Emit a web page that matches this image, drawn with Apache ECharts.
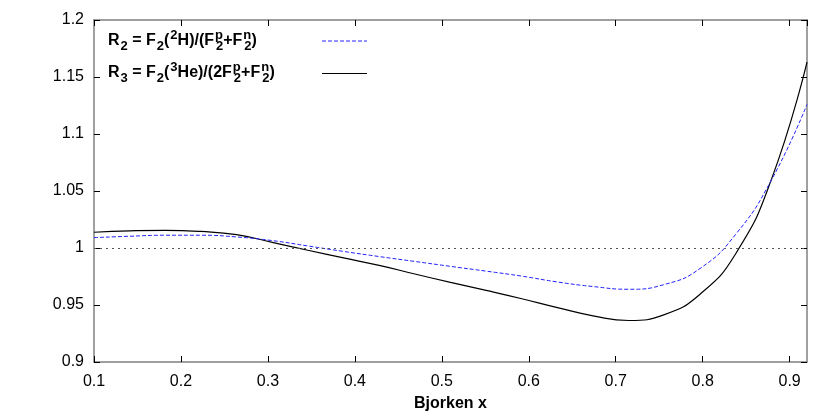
<!DOCTYPE html>
<html><head><meta charset="utf-8">
<script src="https://cdn.jsdelivr.net/npm/echarts@6/dist/echarts.min.js"></script>
<style>html,body{margin:0;padding:0;background:#fff}#c{width:830px;height:416px}</style>
</head><body><div id="c"></div>
<script>
const xValues  = [0.100, 0.141, 0.182, 0.223, 0.264, 0.305, 0.346, 0.387, 0.428, 0.469, 0.510, 0.551, 0.592, 0.633, 0.674, 0.715, 0.756, 0.797, 0.838, 0.879, 0.920];
const r3Values = [1.0138, 1.0150, 1.0155, 1.0145, 1.0117, 1.0050, 0.9980, 0.9913, 0.9847, 0.9772, 0.9698, 0.9628, 0.9555, 0.9477, 0.9405, 0.9364, 0.9416, 0.9595, 0.9950, 1.0600, 1.1630];
const r2Values = [1.0091, 1.0103, 1.0112, 1.0112, 1.0097, 1.0065, 1.0018, 0.9970, 0.9925, 0.9882, 0.9839, 0.9797, 0.9753, 0.9702, 0.9662, 0.9638, 0.9680, 0.9820, 1.0120, 1.0595, 1.1260];
const refLineValue = 1;
const xAxisTitle = 'Bjorken x';
const legendR2 = '{m|R}{s|2}{m| = F}{s|2}{m|(}{p|2}{m|H)/(F}{pz|p}{s|2}{m|+F}{pz|n}{s|2}{m|)}';
const legendR3 = '{m|R}{s|3}{m| = F}{s|2}{m|(}{p|3}{m|He)/(2F}{pz|p}{s|2}{m|+F}{pz|n}{s|2}{m|)}';

const chart = echarts.init(document.getElementById('c'), null, {renderer: 'canvas'});
const FONT = '"Liberation Sans", Arial, Helvetica, sans-serif';
const frame = {show: true, lineStyle: {color: '#808080', width: 1.5}};
const tick = {show: true, inside: true, length: 6, lineStyle: {color: '#000', width: 1}};
const xFmt = v => Math.abs(v * 10 - Math.round(v * 10)) < 1e-6 ? String(Math.round(v * 10) / 10) : '';
const richStyles = {
  m:  {fontSize: 16, fontWeight: 'bold', fontFamily: FONT, color: '#000', lineHeight: 24, verticalAlign: 'middle'},
  s:  {fontSize: 13, fontWeight: 'bold', fontFamily: FONT, color: '#000', lineHeight: 14, verticalAlign: 'bottom', padding: [0, 0, 0, 1]},
  p:  {fontSize: 13, fontWeight: 'bold', fontFamily: FONT, color: '#000', lineHeight: 14, verticalAlign: 'top', padding: [0, 0, 0, 1]},
  pz: {fontSize: 13, fontWeight: 'bold', fontFamily: FONT, color: '#000', lineHeight: 14, verticalAlign: 'top', width: 0, padding: [0, 0, 0, 1]}
};
const option = {
  animation: false,
  backgroundColor: '#fff',
  grid: {left: 94, right: 23, top: 20, bottom: 54, containLabel: false, outerBoundsMode: 'none'},
  xAxis: [
    {type: 'value', min: 0.1, max: 0.92, interval: 0.1, position: 'bottom',
     axisLine: frame, axisTick: tick, splitLine: {show: false},
     axisLabel: {formatter: xFmt, color: '#000', fontSize: 16, fontFamily: FONT, margin: 12, showMaxLabel: false},
     name: xAxisTitle, nameLocation: 'middle', nameGap: 34,
     nameTextStyle: {fontSize: 16, fontWeight: 'bold', fontFamily: FONT, color: '#000'}},
    {type: 'value', min: 0.1, max: 0.92, interval: 0.1, position: 'top',
     axisLine: frame, axisTick: tick, axisLabel: {show: false}, splitLine: {show: false}}
  ],
  yAxis: [
    {type: 'value', min: 0.9, max: 1.2, interval: 0.05, position: 'left',
     axisLine: frame, axisTick: tick, splitLine: {show: false},
     axisLabel: {color: '#000', fontSize: 16, fontFamily: FONT, margin: 10}},
    {type: 'value', min: 0.9, max: 1.2, interval: 0.05, position: 'right',
     axisLine: frame, axisTick: tick, axisLabel: {show: false}, splitLine: {show: false}}
  ],
  series: [
    {name: 'R2', type: 'line', smooth: 0.5, showSymbol: false, xAxisIndex: 0, yAxisIndex: 0,
     data: xValues.map((x, i) => [x, r2Values[i]]),
     lineStyle: {color: '#2222ff', width: 1, type: [4, 2]}, z: 3},
    {name: 'R3', type: 'line', smooth: 0.5, showSymbol: false, xAxisIndex: 0, yAxisIndex: 0,
     data: xValues.map((x, i) => [x, r3Values[i]]),
     lineStyle: {color: '#000', width: 1.2}, z: 2,
     markLine: {silent: true, symbol: 'none', label: {show: false},
       lineStyle: {color: '#555', width: 1, type: [2, 4]},
       data: [{yAxis: refLineValue}]}}
  ],
  graphic: [
    {type: 'text', left: 108, top: 29, style: {text: legendR2, rich: richStyles}},
    {type: 'line', shape: {x1: 322, y1: 41, x2: 367, y2: 41}, style: {stroke: '#2222ff', lineWidth: 1, lineDash: [4, 2]}},
    {type: 'text', left: 108, top: 61, style: {text: legendR3, rich: richStyles}},
    {type: 'line', shape: {x1: 322, y1: 73.5, x2: 367, y2: 73.5}, style: {stroke: '#000', lineWidth: 1.2}}
  ]
};
chart.setOption(option);
</script></body></html>
